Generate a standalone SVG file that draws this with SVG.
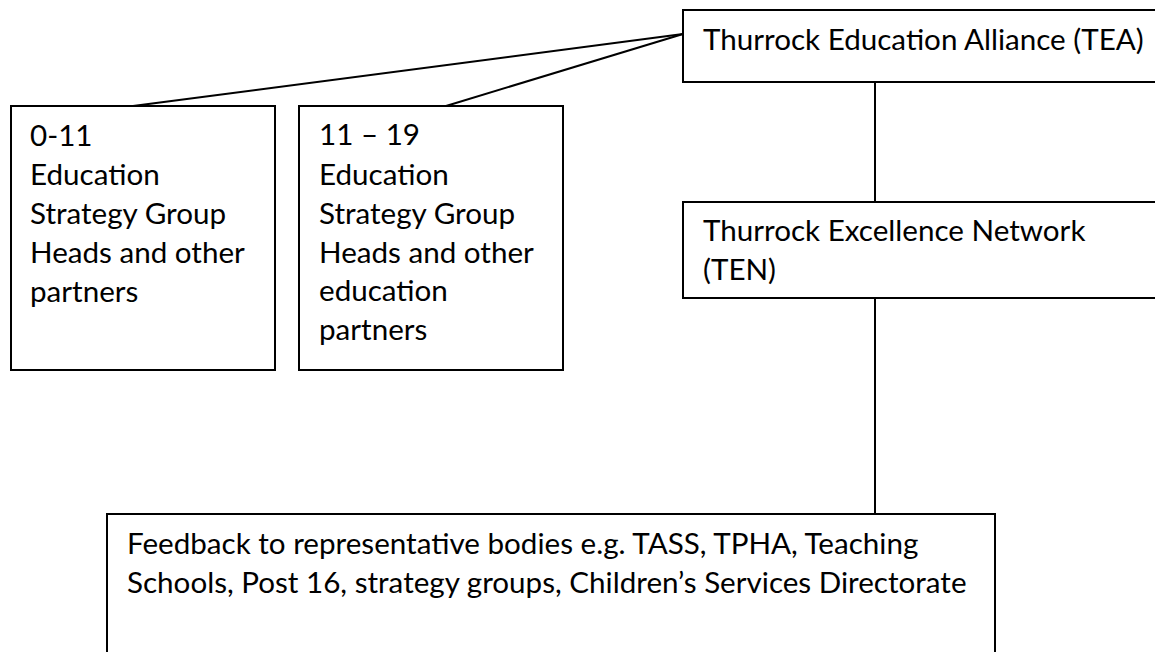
<svg xmlns="http://www.w3.org/2000/svg" width="1155" height="652" viewBox="0 0 1155 652">
<style>
.box{fill:#fff;stroke:#000;stroke-width:2}
.t{font-family:Lato,"Liberation Sans",Arial,sans-serif;font-size:29.6px;fill:#000}
.c{stroke:#000;stroke-width:2;fill:none}
</style>
<rect width="1155" height="652" fill="#fff"/>
<g id="connectors">
<line class="c" x1="683" y1="34" x2="133" y2="106"/>
<line class="c" x1="683" y1="34" x2="446" y2="106"/>
<line class="c" x1="875" y1="82" x2="875" y2="202"/>
<line class="c" x1="875" y1="298" x2="875" y2="514"/>
</g>
<g id="tea">
<rect class="box" x="683" y="10" width="473" height="72"/>
<text class="t" x="703" y="50">Thurrock Education Alliance (TEA)</text>
</g>
<g id="ten">
<rect class="box" x="683" y="202" width="473" height="96"/>
<text class="t" x="703" y="241">Thurrock Excellence Network</text>
<text class="t" x="703" y="280">(TEN)</text>
</g>
<g id="group-0-11">
<rect class="box" x="11" y="106" width="264" height="264"/>
<text class="t" x="30" y="146">0-11</text>
<text class="t" x="30" y="185">Education</text>
<text class="t" x="30" y="224">Strategy Group</text>
<text class="t" x="30" y="263">Heads and other</text>
<text class="t" x="30" y="302">partners</text>
</g>
<g id="group-11-19">
<rect class="box" x="299" y="106" width="264" height="264"/>
<text class="t" x="319" y="145">11 – 19</text>
<text class="t" x="319" y="185">Education</text>
<text class="t" x="319" y="224">Strategy Group</text>
<text class="t" x="319" y="263">Heads and other</text>
<text class="t" x="319" y="301">education</text>
<text class="t" x="319" y="340">partners</text>
</g>
<g id="feedback">
<rect class="box" x="107" y="514" width="888" height="150"/>
<text class="t" x="127" y="554">Feedback to representative bodies e.g. TASS, TPHA, Teaching</text>
<text class="t" x="127" y="593">Schools, Post 16, strategy groups, Children’s Services Directorate</text>
</g>
</svg>
